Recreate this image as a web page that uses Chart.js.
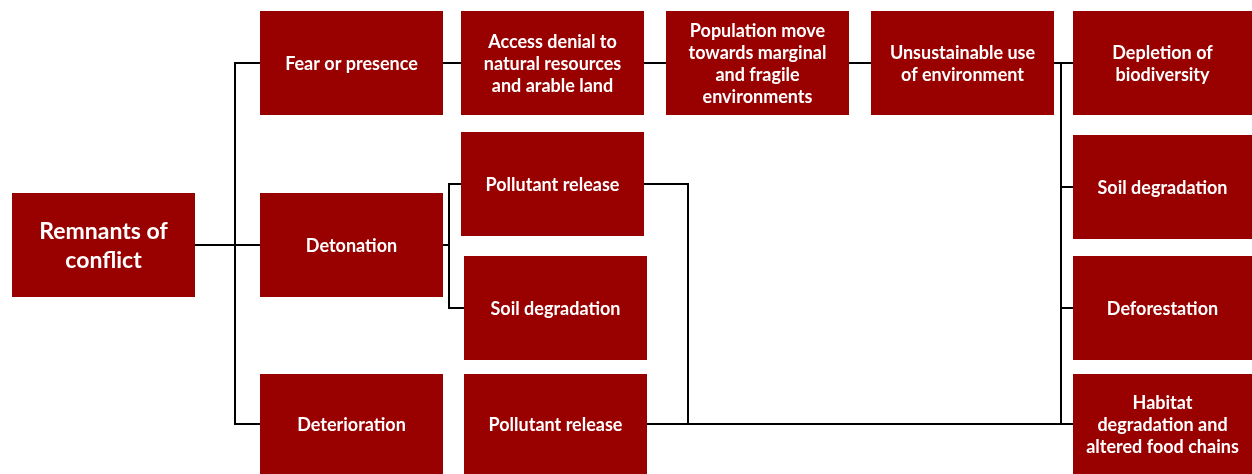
<!DOCTYPE html>
<html lang="en">
<head>
  <meta charset="UTF-8">
  <title>Remnants of conflict</title>
  <script src="https://cdn.jsdelivr.net/npm/chart.js"></script>
  <style>
    body { margin: 0; background: #fff; }
    #wrap { width: 1252px; height: 474px; position: relative; }
  </style>
</head>
<body>
  <div id="wrap"><canvas id="flowChart"></canvas></div>

  <script>
    // box texts, one entry per line
    const nodeText = [
      ['Remnants of', 'conflict'],
      ['Fear or presence'],
      ['Detonation'],
      ['Deterioration'],
      ['Access denial to', 'natural resources', 'and arable land'],
      ['Pollutant release'],
      ['Soil degradation'],
      ['Pollutant release'],
      ['Population move', 'towards marginal', 'and fragile', 'environments'],
      ['Unsustainable use', 'of environment'],
      ['Depletion of', 'biodiversity'],
      ['Soil degradation'],
      ['Deforestation'],
      ['Habitat', 'degradation and', 'altered food chains']
    ];

    // layout in diagram units: [left, right, top, bottom]
    const nodeBox = [
      [12, 195, 193, 297],
      [260, 443, 11, 115],
      [260, 443, 193, 297],
      [260, 443, 374, 474],
      [461, 644, 11, 115],
      [461, 644, 132, 236],
      [464, 647, 256, 360],
      [464, 647, 374, 474],
      [666, 849, 11, 115],
      [871, 1054, 11, 115],
      [1073, 1252, 11, 115],
      [1073, 1252, 135, 239],
      [1073, 1252, 256, 360],
      [1073, 1252, 374, 474]
    ];

    // connectors: from node, to node, x of the vertical run
    const links = [
      [0, 1, 235], [0, 2, 235], [0, 3, 235],
      [1, 4, 452], [4, 8, 655], [8, 9, 860],
      [2, 5, 449], [2, 6, 449],
      [9, 10, 1061], [9, 11, 1061], [9, 12, 1061], [9, 13, 1061],
      [5, 13, 688], [7, 13, 1061]
    ];

    const boxColor = '#990000';

    function midY(i) { return (nodeBox[i][2] + nodeBox[i][3]) / 2; }

    const linkSets = links.map(([a, b, bus]) => ({
      data: [
        { x: nodeBox[a][1], y: midY(a) },
        { x: bus, y: midY(a) },
        { x: bus, y: midY(b) },
        { x: nodeBox[b][0], y: midY(b) }
      ],
      showLine: true,
      borderColor: '#000',
      borderWidth: 2,
      pointRadius: 0,
      fill: false
    }));

    // draws the boxes and their texts on top of the connectors
    const boxPlugin = {
      id: 'boxes',
      afterDatasetsDraw(chart) {
        const c = chart.ctx;
        const xs = chart.scales.x, ys = chart.scales.y;
        c.save();
        nodeBox.forEach((b, i) => {
          const x0 = xs.getPixelForValue(b[0]), x1 = xs.getPixelForValue(b[1]);
          const y0 = ys.getPixelForValue(b[2]), y1 = ys.getPixelForValue(b[3]);
          c.fillStyle = boxColor;
          c.fillRect(x0, y0, x1 - x0, y1 - y0);
          const big = i === 0;
          const size = big ? 23 : 18;
          const lh = big ? 29 : 22;
          c.font = 'bold ' + size + 'px Lato';
          c.fillStyle = '#fff';
          c.textAlign = 'center';
          c.textBaseline = 'middle';
          const lines = nodeText[i];
          const cx = (x0 + x1) / 2, cy = (y0 + y1) / 2 + 1;
          lines.forEach((t, k) => {
            c.fillText(t, cx, cy + (k - (lines.length - 1) / 2) * lh);
          });
        });
        c.restore();
      }
    };

    new Chart(document.getElementById('flowChart'), {
      type: 'scatter',
      data: { datasets: linkSets },
      options: {
        responsive: true,
        maintainAspectRatio: false,
        animation: false,
        layout: { padding: 0 },
        plugins: { legend: { display: false }, tooltip: { enabled: false } },
        scales: {
          x: { type: 'linear', min: 0, max: 1252, display: false },
          y: { type: 'linear', min: 0, max: 474, reverse: true, display: false }
        }
      },
      plugins: [boxPlugin]
    });
  </script>
</body>
</html>
